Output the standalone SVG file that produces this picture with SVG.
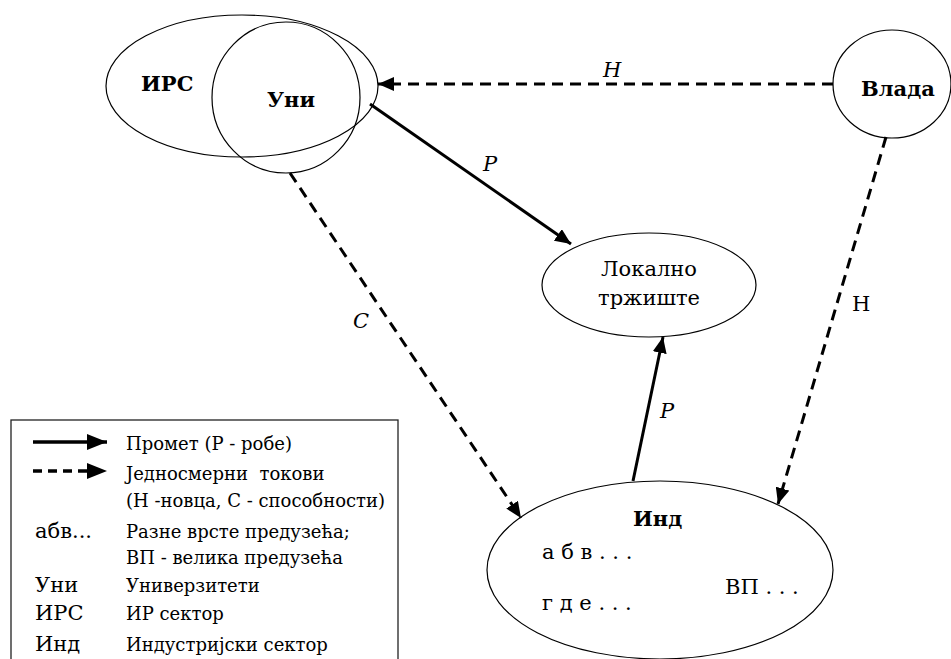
<svg xmlns="http://www.w3.org/2000/svg" width="951" height="659" viewBox="0 0 951 659">
<style>
  .node { fill: #fff; stroke: #000; stroke-width: 1.2; }
  .nodeT { fill: none; stroke: #000; stroke-width: 1.2; }
  .lbl { font-family: "DejaVu Serif", "Liberation Serif", serif; fill: #000; }
  .b { font-weight: bold; font-size: 21px; }
  .r { font-size: 21px; }
  .it { font-style: italic; font-size: 21px; }
  .leg { font-size: 18px; }
  .legk { font-size: 21px; }
  .solid { stroke: #000; stroke-width: 3; fill: none; }
  .dash { stroke: #000; stroke-width: 3; fill: none; stroke-dasharray: 11 7; }
</style>
<defs>
  <marker id="ah" markerUnits="userSpaceOnUse" markerWidth="16" markerHeight="14" refX="16" refY="7" orient="auto">
    <path d="M0,0 L16,7 L0,14 z" fill="#000"/>
  </marker>
  <marker id="ahl" markerUnits="userSpaceOnUse" markerWidth="20" markerHeight="16" refX="20" refY="8" orient="auto">
    <path d="M0,0 L20,8 L0,16 z" fill="#000"/>
  </marker>
</defs>
<rect width="951" height="659" fill="#fff"/>

<g id="irs">
  <ellipse class="nodeT" cx="242" cy="86" rx="136" ry="71"/>
  <text class="lbl b" x="141" y="91">ИРС</text>
</g>
<g id="uni">
  <ellipse class="nodeT" cx="286" cy="97.5" rx="74" ry="75.5"/>
  <text class="lbl b" x="267" y="107">Уни</text>
</g>
<g id="vlada">
  <ellipse class="node" cx="892" cy="84" rx="59" ry="54"/>
  <text class="lbl b" x="861" y="96">Влада</text>
</g>
<g id="lokalno">
  <ellipse class="node" cx="649" cy="285" rx="107" ry="52"/>
  <text class="lbl r" x="649" y="276" text-anchor="middle">Локално</text>
  <text class="lbl r" x="649" y="305" text-anchor="middle">тржиште</text>
</g>
<g id="ind">
  <ellipse class="node" cx="660" cy="570" rx="173" ry="89"/>
  <text class="lbl b" x="633" y="526">Инд</text>
  <text class="lbl r" x="542" y="559">а б в . . .</text>
  <text class="lbl r" x="542" y="610">г д е . . .</text>
  <text class="lbl r" x="725" y="594">ВП . . .</text>
</g>

<g id="connectors">
  <line class="dash" x1="833" y1="84" x2="378" y2="84" marker-end="url(#ah)"/>
  <line class="solid" x1="370" y1="104" x2="571" y2="244" marker-end="url(#ah)"/>
  <line class="dash" x1="290" y1="173" x2="521" y2="518" marker-end="url(#ah)"/>
  <line class="dash" x1="886" y1="137" x2="778" y2="504" marker-end="url(#ah)"/>
  <line class="solid" x1="633" y1="481" x2="663" y2="337" marker-end="url(#ah)"/>
  <text class="lbl it" x="603" y="77">H</text>
  <text class="lbl it" x="483" y="171">P</text>
  <text class="lbl it" x="353" y="328">C</text>
  <text class="lbl it" x="660" y="418">P</text>
  <text class="lbl r" x="852" y="311">H</text>
</g>

<g id="legend">
  <rect x="11" y="420" width="387" height="260" fill="#fff" stroke="#222" stroke-width="1.3"/>
  <line x1="33" y1="442" x2="107" y2="442" stroke="#000" stroke-width="3.5" marker-end="url(#ahl)"/>
  <line x1="33" y1="471" x2="107" y2="471" stroke="#000" stroke-width="3.5" stroke-dasharray="9 6" marker-end="url(#ahl)"/>
  <text class="lbl leg" x="126" y="450">Промет (Р - робе)</text>
  <text class="lbl leg" x="126" y="480" xml:space="preserve">Једносмерни  токови</text>
  <text class="lbl leg" x="126" y="507">(Н -новца, С - способности)</text>
  <text class="lbl legk" x="35" y="538">абв...</text>
  <text class="lbl leg" x="126" y="538">Разне врсте предузећа;</text>
  <text class="lbl leg" x="126" y="564">ВП - велика предузећа</text>
  <text class="lbl legk" x="35" y="592">Уни</text>
  <text class="lbl leg" x="126" y="592">Универзитети</text>
  <text class="lbl legk" x="35" y="620">ИРС</text>
  <text class="lbl leg" x="126" y="620">ИР сектор</text>
  <text class="lbl legk" x="35" y="651">Инд</text>
  <text class="lbl leg" x="126" y="651">Индустријски сектор</text>
</g>
</svg>
